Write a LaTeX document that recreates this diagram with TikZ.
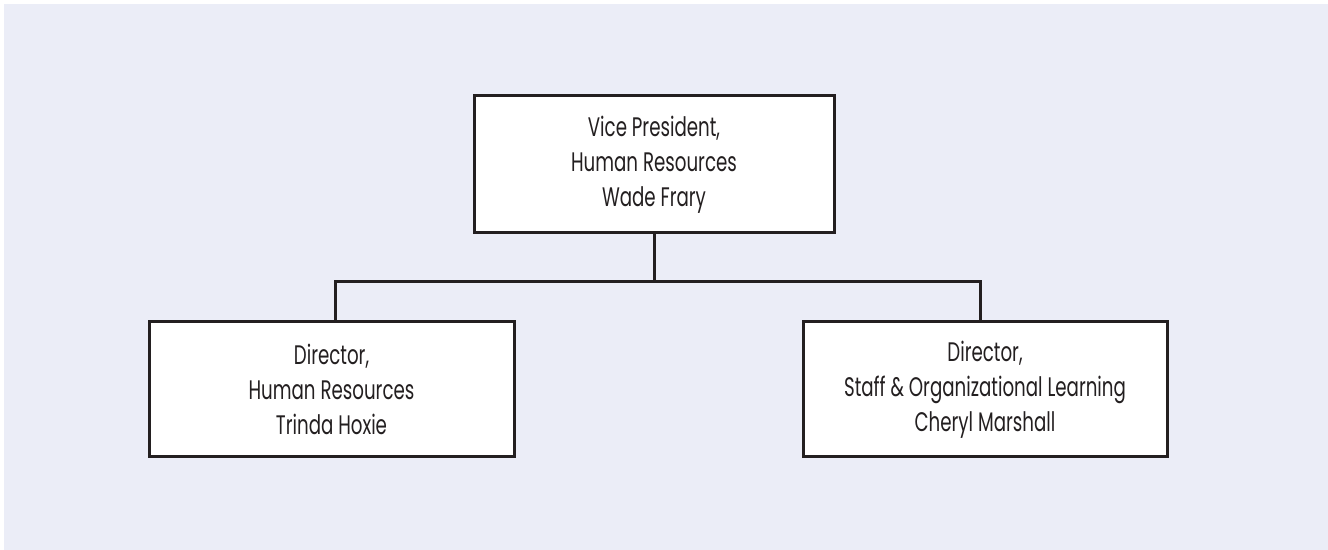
\documentclass[tikz,border=0pt]{standalone}
\usepackage{fontspec}
\setmainfont{Poppins}[FakeStretch=0.68]
\definecolor{pagebg}{RGB}{235,237,247}
\definecolor{ink}{RGB}{35,31,32}
\begin{document}
\begin{tikzpicture}[x=0.5pt,y=-0.5pt,
  orgbox/.style={draw=ink, line width=1.5pt, fill=white, align=center,
    inner sep=0pt, font=\fontsize{13.4pt}{17.4pt}\selectfont, text=ink},
  link/.style={draw=ink, line width=1.5pt}]
  % page and panel
  \fill[white] (0,0) rectangle (1328,550);
  \fill[pagebg] (4,4) rectangle (1328,550);
  \useasboundingbox (0,0) rectangle (1328,550);

  % boxes
  \node[orgbox, minimum width=180pt, minimum height=68.5pt] (vp) at (654,164.5)
    {Vice President,\\Human Resources\\Wade Frary};
  \node[orgbox, minimum width=182.5pt, minimum height=67.5pt] (hr) at (331.5,389.5)
    {Director,\\Human Resources\\Trinda Hoxie};
  \node[orgbox, minimum width=182pt, minimum height=67.5pt] (sol) at (985,389.5)
    {Director,\\Staff \& Organizational Learning\\Cheryl Marshall};

  % reporting lines
  \coordinate (busL) at (335,282);
  \coordinate (busR) at (980,282);
  \draw[link] (vp.south) -- (vp.south |- busL);
  \draw[link, line join=miter] (hr.north -| busL) -- (busL) -- (busR) -- (sol.north -| busR);
\end{tikzpicture}
\end{document}
